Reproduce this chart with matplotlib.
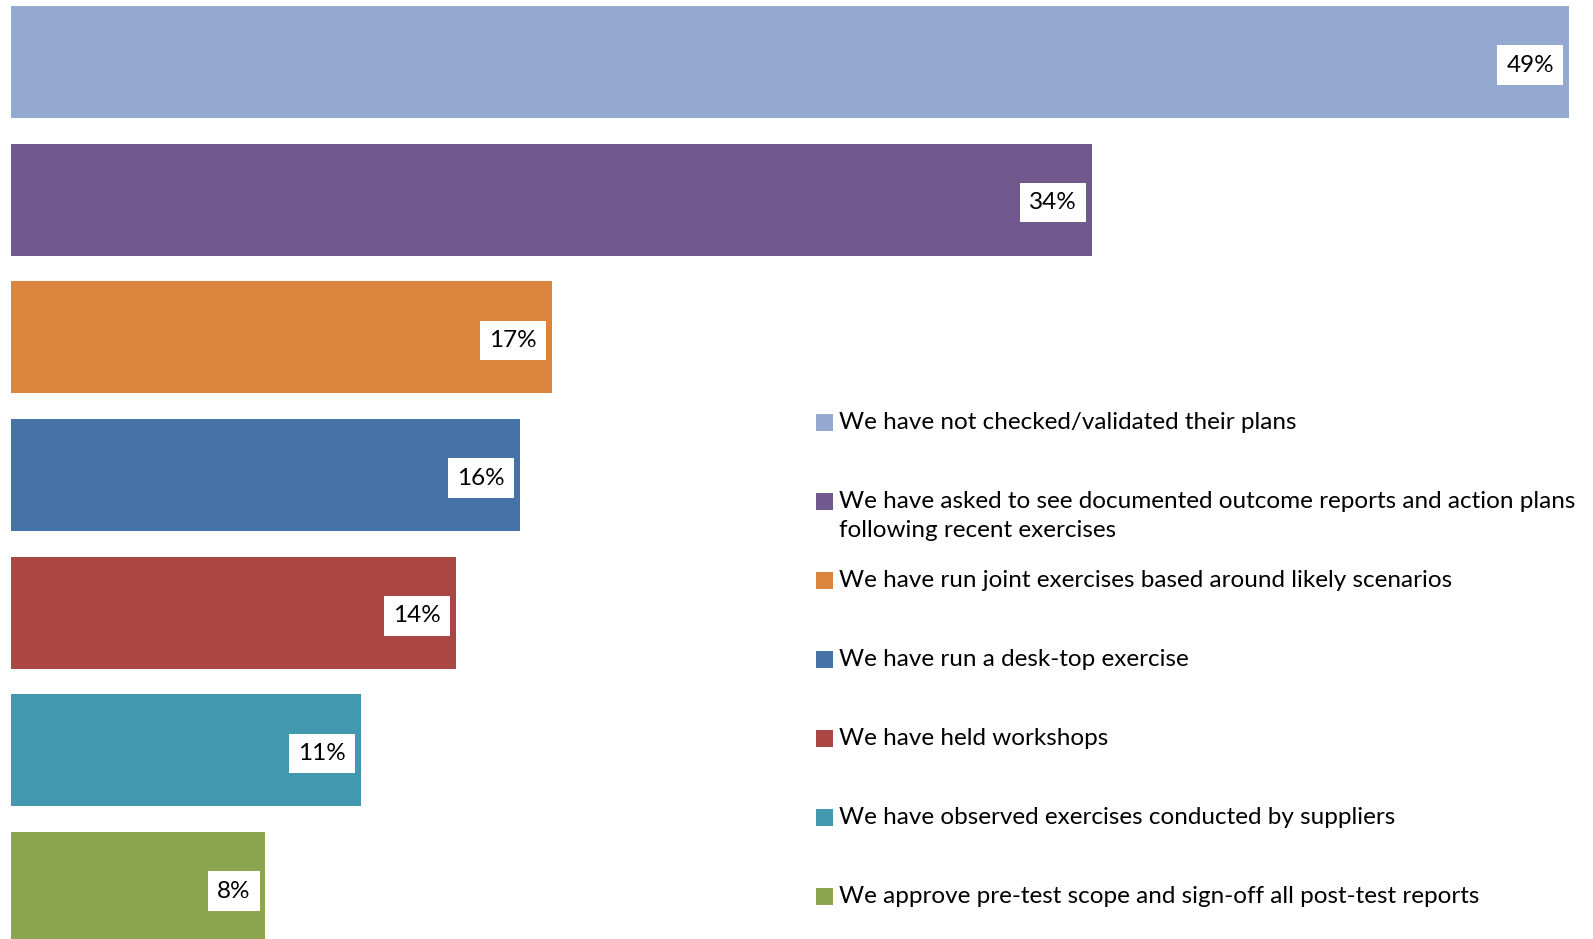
import matplotlib
matplotlib.use("Agg")
import matplotlib.pyplot as plt
from matplotlib.patches import Rectangle

categories = [
    "We have not checked/validated their plans",
    "We have asked to see documented outcome reports and action plans\nfollowing recent exercises",
    "We have run joint exercises based around likely scenarios",
    "We have run a desk-top exercise",
    "We have held workshops",
    "We have observed exercises conducted by suppliers",
    "We approve pre-test scope and sign-off all post-test reports",
]
values = [49, 34, 17, 16, 14, 11, 8]
value_labels = ["49%", "34%", "17%", "16%", "14%", "11%", "8%"]
colors = ["#94A9D0", "#71598E", "#DB843D", "#4572A7", "#AA4644", "#4198AF", "#8BA64F"]

W, H = 1593, 939
fig = plt.figure(figsize=(W / 100, H / 100), dpi=100)
plt.rcParams["font.family"] = ["Lato", "DejaVu Sans"]

# axes spanning from the left margin to the end of the longest bar
left_px, right_px = 11, 1569
ax = fig.add_axes([left_px / W, 0, (right_px - left_px) / W, 1])
pitch = 137.7
first_center = 62
ax.set_xlim(0, max(values))
ax.set_ylim((H - first_center) / pitch, -first_center / pitch)
ax.axis("off")

ypos = list(range(len(values)))
ax.barh(ypos, values, height=112 / pitch, color=colors, linewidth=0)

px_per_unit = (right_px - left_px) / max(values)
for y, v, lab in zip(ypos, values, value_labels):
    ax.text(v - 15 / px_per_unit, y + 3 / pitch, lab, ha="right", va="center",
            fontsize=17.5, color="black",
            bbox=dict(boxstyle="square,pad=0.38", facecolor="white", edgecolor="none"))

# legend drawn as swatches plus text
legend_y = [422, 501, 580, 659, 738, 817, 896]
for lab, c, ly in zip(categories, colors, legend_y):
    sq = 17
    fig.add_artist(Rectangle((816 / W, 1 - (ly + sq / 2) / H), sq / W, sq / H,
                             transform=fig.transFigure, facecolor=c, edgecolor="none"))
    fig.text(839 / W, 1 - (ly - 10) / H, lab, ha="left", va="top",
             fontsize=17.5, color="black", linespacing=1.45)

fig.savefig("out.png", dpi=100)
